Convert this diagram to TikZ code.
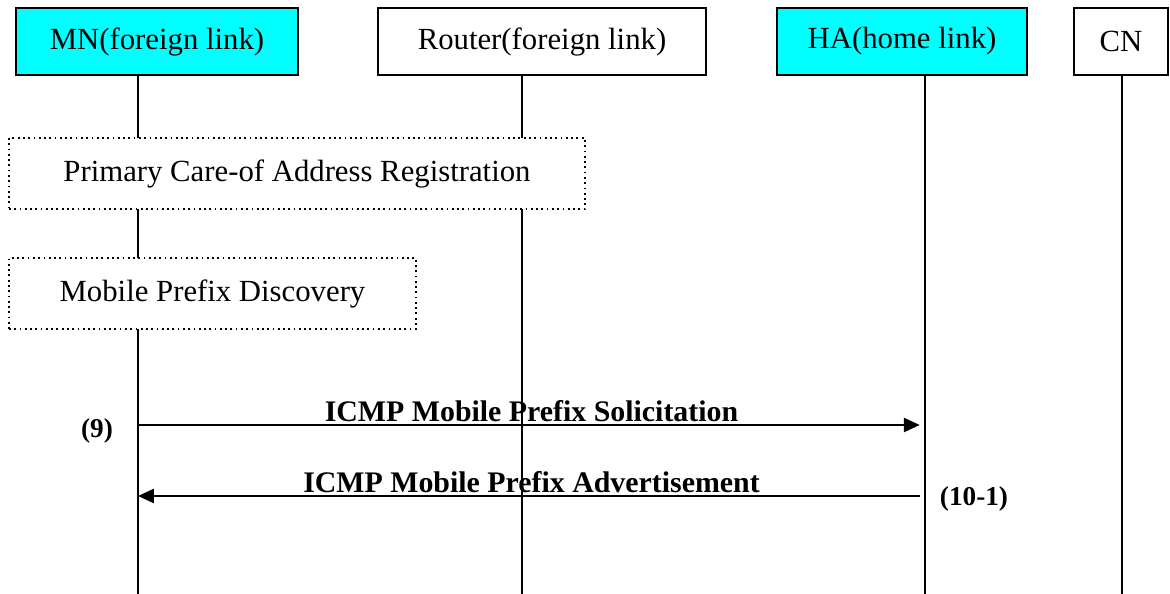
\documentclass[tikz,border=0pt]{standalone}
\usepackage{fontspec}
\setmainfont{Liberation Serif}
\usetikzlibrary{arrows.meta,positioning}
\definecolor{hostcyan}{RGB}{0,255,255}

\tikzset{
  entity/.style={draw, line width=1.1pt, minimum height=1.34cm, inner sep=0pt,
    font=\fontsize{17.5}{20}\selectfont},
  phase/.style={draw, dotted, line width=1pt, fill=white, minimum height=1.42cm,
    inner sep=0pt, font=\fontsize{17.5}{20}\selectfont},
  lifeline/.style={line width=0.8pt},
  msg/.style={line width=1.1pt, -{Triangle[length=9pt,width=8pt]}},
  msglabel/.style={font=\bfseries\fontsize{17}{20}\selectfont, inner sep=1pt},
  step label/.style={font=\bfseries\fontsize{15.5}{18}\selectfont}
}

\begin{document}
\begin{tikzpicture}[x=0.02cm, y=-0.02cm, semithick]
  \useasboundingbox (0,0) rectangle (1170,594);

  \node[entity, fill=hostcyan, minimum width=5.64cm] (mn) at (157,41.5) {MN(foreign link)};
  \node[entity, minimum width=6.56cm] (router) at (542,41.5) {Router(foreign link)};
  \node[entity, fill=hostcyan, minimum width=5.0cm] (ha) at (902,41.5) {HA(home link)};
  \node[entity, minimum width=1.88cm] (cn) at (1121,41.5) {CN};

  \coordinate (mnend) at (138,594);
  \coordinate (routerend) at (522,594);
  \coordinate (haend) at (925,594);
  \coordinate (cnend) at (1122,594);

  \foreach \p in {mn,router,ha,cn}
    \draw[lifeline] (\p end |- \p.south) -- (\p end);

  \node[phase, minimum width=11.52cm] (coa) at (297,173.5) {Primary Care-of Address Registration};
  \node[phase, minimum width=8.14cm] (mpd) at (212.5,293.5) {Mobile Prefix Discovery};

  % prefix solicitation / advertisement
  \coordinate (solic) at (0,425);
  \coordinate (advert) at (0,496);
  \draw[msg, shorten >=3pt] (mnend |- solic) -- node[msglabel, above] (soliclabel) {ICMP Mobile Prefix Solicitation} (haend |- solic);
  \draw[msg, shorten <=3pt] (haend |- advert) -- node[msglabel, above] (advertlabel) {ICMP Mobile Prefix Advertisement} (mnend |- advert);

  \node[step label] (nine) at (97,431) {(9)};
  \node[step label] (ten) at (974,499) {(10-1)};
\end{tikzpicture}
\end{document}
